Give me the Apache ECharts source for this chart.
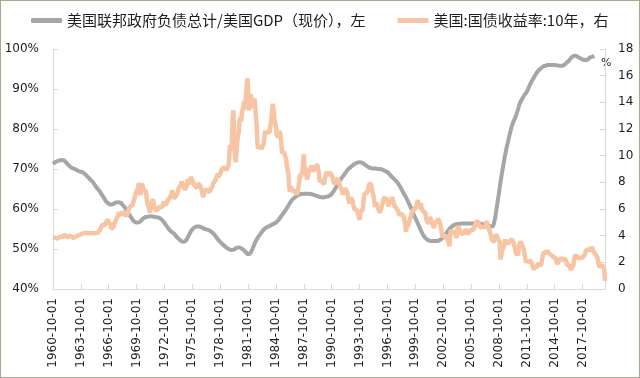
<!DOCTYPE html>
<html>
<head>
<meta charset="utf-8">
<script src="https://cdn.jsdelivr.net/npm/echarts@6/dist/echarts.min.js"></script>
<style>
html,body{margin:0;padding:0;background:#fff;}
#wrap{position:relative;width:640px;height:378px;}
#chart{position:absolute;left:0;top:0;width:640px;height:378px;}
#frame{position:absolute;left:0;top:0;width:640px;height:378px;box-sizing:border-box;border:1px solid #aca78e;pointer-events:none;}
</style>
</head>
<body>
<div id="wrap"><div id="chart"></div><div id="frame"></div></div>
<script>
// Category range: monthly, 1960-10 .. 2020-03
const startYear = 1960, startMonth = 10, monthCount = 714;
const labelEvery = 36; // every 3 years: 1960-10-01, 1963-10-01, ...

const seriesNames = ['美国联邦政府负债总计/美国GDP（现价），左', '美国:国债收益率:10年，右'];

// Federal debt / GDP (%), quarterly from 1960-10 (Oct, Jan, Apr, Jul ...)
const debtRatio = [
71.3,
71.7,72.0,72.2,72.25,
72.0,71.4,70.8,70.3,
70.1,69.8,69.5,69.3,
69.1,68.6,68.0,67.4,
66.8,66.0,65.2,64.5,
63.6,62.7,61.8,61.3,
61.1,61.3,61.6,61.7,
61.6,61.0,60.3,59.5,
58.5,57.6,56.9,56.6,
56.7,57.2,57.7,58.0,
58.1,58.2,58.1,58.0,
57.9,57.7,57.2,56.5,
55.7,54.9,54.3,53.9,
53.2,52.6,52.1,51.8,
52.0,52.9,54.0,54.9,
55.4,55.6,55.6,55.4,
55.1,54.9,54.75,54.4,
53.9,53.2,52.4,51.8,
51.2,50.7,50.2,49.9,
49.75,49.9,50.3,50.4,
50.2,49.8,49.2,48.7,
49.0,50.2,51.6,52.7,
53.5,54.3,55.0,55.4,
55.7,56.0,56.3,56.6,
57.2,58.0,58.8,59.6,
60.5,61.5,62.3,62.9,
63.3,63.6,63.75,63.8,
63.8,63.8,63.75,63.6,
63.4,63.2,63.0,62.9,
63.0,63.1,63.3,63.8,
64.6,65.6,66.7,67.5,
68.3,69.1,69.9,70.4,
70.9,71.3,71.6,71.7,
71.6,71.2,70.8,70.4,
70.2,70.1,70.1,70.0,
70.0,69.8,69.5,69.2,
68.6,68.0,67.4,66.8,
66.0,65.0,63.9,62.9,
61.7,60.4,59.0,57.8,
56.5,55.2,53.9,53.0,
52.4,52.1,52.0,52.0,
52.0,52.1,52.4,53.0,
53.7,54.5,55.2,55.7,
56.1,56.25,56.3,56.4,
56.4,56.4,56.4,56.4,
56.4,56.3,56.3,56.3,
56.2,56.2,56.0,55.8,
55.6,56.8,60.2,64.0,
67.9,71.3,74.5,77.0,
79.5,81.5,82.8,84.5,
86.4,87.5,88.5,89.3,
90.6,91.8,92.8,93.8,
94.6,95.1,95.6,95.8,
96.0,96.0,96.0,96.0,
95.9,95.8,95.8,96.0,
96.5,97.0,97.7,98.2,
98.3,98.0,97.7,97.4,
97.25,97.3,97.8,98.0,
98.3
];

// US 10-year Treasury yield (%), monthly from 1960-10
const yield10y = [
3.89,3.93,3.84,
3.84,3.78,3.74,3.78,3.71,3.88,3.92,4.04,3.98,3.92,3.94,4.06,
4.08,4.04,3.93,3.84,3.87,3.91,4.01,3.98,3.98,3.93,3.92,3.86,
3.83,3.92,3.93,3.97,3.93,3.99,4.02,4.00,4.08,4.11,4.12,4.13,
4.17,4.15,4.22,4.23,4.20,4.17,4.19,4.19,4.20,4.19,4.15,4.18,
4.19,4.21,4.21,4.20,4.21,4.21,4.20,4.25,4.29,4.35,4.45,4.62,
4.61,4.83,4.87,4.75,4.78,4.81,5.02,5.22,5.18,5.01,5.16,4.84,
4.58,4.63,4.54,4.59,4.85,5.02,5.16,5.28,5.30,5.48,5.75,5.70,
5.53,5.56,5.74,5.64,5.87,5.72,5.50,5.42,5.46,5.58,5.70,6.03,
6.04,6.19,6.30,6.17,6.32,6.57,6.72,6.69,7.16,7.10,7.14,7.65,
7.95,7.24,7.07,7.39,7.91,7.84,7.46,7.53,7.39,7.33,6.84,6.39,
6.24,6.11,5.70,5.83,6.39,6.52,6.73,6.58,6.14,5.93,5.81,5.93,
5.95,6.08,6.07,6.19,6.13,6.11,6.11,6.21,6.55,6.48,6.28,6.36,
6.46,6.64,6.71,6.67,6.85,6.90,7.13,7.40,7.09,6.79,6.73,6.74,
6.99,6.96,7.21,7.51,7.58,7.54,7.81,8.04,8.04,7.90,7.68,7.43,
7.50,7.39,7.73,8.23,8.06,7.86,8.06,8.40,8.43,8.14,8.05,8.00,
7.74,7.79,7.73,7.56,7.90,7.86,7.83,7.77,7.59,7.41,7.29,6.87,
7.21,7.39,7.46,7.37,7.46,7.28,7.33,7.40,7.34,7.52,7.58,7.69,
7.96,8.03,8.04,8.15,8.35,8.46,8.64,8.41,8.42,8.64,8.81,9.01,
9.10,9.10,9.12,9.18,9.25,8.91,8.95,9.03,9.33,10.30,10.80,10.39,
10.80,12.80,13.40,11.47,10.18,9.50,10.25,11.10,11.51,11.75,12.68,12.84,
12.57,13.19,13.12,13.68,14.10,13.47,14.28,14.94,15.80,15.30,13.39,13.72,
14.59,14.43,13.86,13.87,13.62,14.30,13.95,13.06,12.34,10.91,10.55,10.54,
10.46,10.72,10.51,10.40,10.38,10.85,11.38,11.85,11.65,11.54,11.69,11.83,
11.67,11.84,12.32,12.63,13.41,13.90,13.36,12.72,12.52,12.16,11.57,11.50,
11.38,11.51,11.86,11.43,10.85,10.16,10.31,10.33,10.37,10.24,9.78,9.26,
9.19,8.70,7.78,7.30,7.71,7.80,7.30,7.17,7.45,7.43,7.25,7.11,
7.08,7.25,7.25,8.02,8.61,8.40,8.45,8.76,9.42,10.10,8.86,8.99,
8.67,8.21,8.37,8.72,9.09,8.92,9.06,9.26,8.98,8.80,8.96,9.11,
9.09,9.17,9.36,9.18,8.86,8.28,8.02,8.11,8.19,8.01,7.87,7.84,
8.21,8.47,8.59,8.79,8.76,8.48,8.47,8.75,8.89,8.72,8.39,8.08,
8.09,7.85,8.11,8.04,8.07,8.28,8.27,7.90,7.65,7.53,7.42,7.09,
7.03,7.34,7.54,7.48,7.39,7.26,6.84,6.59,6.42,6.59,6.87,6.77,
6.60,6.26,5.98,5.97,6.04,5.96,5.81,5.68,5.36,5.20,5.72,5.77,
5.75,5.97,6.48,6.97,7.18,7.10,7.30,7.24,7.46,7.74,7.96,7.81,
7.78,7.47,7.20,7.06,6.63,6.17,6.28,6.49,6.20,6.04,5.93,5.71,
5.65,5.81,6.27,6.51,6.74,6.91,6.87,6.64,6.83,6.53,6.20,6.30,
6.58,6.42,6.69,6.89,6.71,6.49,6.22,6.30,6.21,6.03,5.88,5.81,
5.54,5.57,5.65,5.64,5.65,5.50,5.46,5.34,4.81,4.30,4.83,4.65,
4.72,5.00,5.23,5.18,5.54,5.90,5.79,5.94,5.92,6.11,6.03,6.28,
6.66,6.52,6.26,5.99,6.44,6.10,6.05,5.83,5.80,5.74,5.72,5.24,
5.16,5.10,4.89,5.14,5.39,5.28,5.24,4.97,4.73,4.57,4.65,5.09,
5.04,4.91,5.28,5.21,5.16,4.93,4.65,4.26,3.87,3.94,4.05,4.03,
4.05,3.90,3.81,3.96,3.57,3.20,3.98,4.45,4.27,4.29,4.30,4.27,
4.15,4.08,3.83,4.35,4.72,4.73,4.50,4.28,4.13,4.10,4.19,4.23,
4.22,4.17,4.50,4.34,4.14,4.00,4.18,4.26,4.20,4.46,4.54,4.47,
4.42,4.57,4.72,4.99,5.11,5.11,5.09,4.88,4.72,4.73,4.60,4.56,
4.76,4.72,4.56,4.69,4.75,5.10,5.00,4.67,4.52,4.53,4.15,4.10,
3.74,3.74,3.51,3.68,3.88,4.10,4.01,3.89,3.69,3.81,3.53,2.20,
2.52,2.87,2.82,2.93,3.29,3.72,3.56,3.59,3.40,3.39,3.40,3.59,
3.73,3.69,3.73,3.85,3.42,3.20,3.01,2.70,2.65,2.54,2.76,3.29,
3.39,3.58,3.41,3.46,3.17,3.00,3.00,2.30,1.98,2.15,2.01,1.98,
1.97,1.97,2.17,2.05,1.80,1.62,1.45,1.68,1.72,1.75,1.65,1.72,
1.91,1.98,1.96,1.76,1.93,2.30,2.58,2.74,2.81,2.62,2.72,2.90,
2.86,2.71,2.72,2.71,2.56,2.60,2.54,2.42,2.53,2.30,2.33,2.21,
1.88,1.98,2.04,1.94,2.20,2.36,2.32,2.17,2.17,2.07,2.26,2.24,
2.09,1.78,1.89,1.81,1.81,1.64,1.40,1.56,1.63,1.76,2.14,2.49,
2.43,2.42,2.48,2.30,2.30,2.19,2.32,2.21,2.20,2.36,2.35,2.40,
2.58,2.86,2.84,2.87,2.98,2.91,2.89,2.89,3.00,3.15,3.12,2.83,
2.71,2.68,2.57,2.53,2.40,2.07,2.06,1.63,1.70,1.71,1.81,1.86,
1.76,1.50,0.60
];

// Tick labels of the two value axes
const leftTicks = [40, 50, 60, 70, 80, 90, 100];
const rightTicks = [0, 2, 4, 6, 8, 10, 12, 14, 16, 18];

// build category labels
const categories = [];
for (let i = 0; i < monthCount; i++) {
  const m0 = startMonth - 1 + i;
  const y = startYear + Math.floor(m0 / 12);
  const m = (m0 % 12) + 1;
  categories.push(y + '-' + String(m).padStart(2, '0') + '-01');
}

const numFont = 'DejaVu Sans';
const cjkFont = 'Noto Sans CJK SC';
const axisGray = '#d9d9d9';
const textColor = '#1e1e1e';
const debtColor = '#a6a6a6';
const yieldColor = '#f7c5a3';

const chart = echarts.init(document.getElementById('chart'), null, {renderer: 'canvas'});
chart.setOption({
  animation: false,
  backgroundColor: '#ffffff',
  grid: {left: 53, right: 35, top: 49, bottom: 89, containLabel: false},
  legend: {
    left: 26, top: 8,
    itemWidth: 31, itemHeight: 5, itemGap: 32,
    textStyle: {fontFamily: cjkFont, fontSize: 15, color: textColor},
    data: [
      {name: seriesNames[0], icon: 'roundRect', itemStyle: {color: debtColor}},
      {name: seriesNames[1], icon: 'roundRect', itemStyle: {color: yieldColor}}
    ]
  },
  graphic: [{
    type: 'text', left: 601, top: 58,
    style: {text: '%', fontFamily: numFont, fontSize: 11, fill: textColor}
  }],
  xAxis: {
    type: 'category',
    data: categories,
    boundaryGap: false,
    axisLine: {lineStyle: {color: axisGray, width: 1}},
    axisTick: {show: true, inside: true, length: 5, interval: labelEvery - 1, lineStyle: {color: axisGray}},
    axisLabel: {
      interval: labelEvery - 1, rotate: 90, margin: 9,
      fontFamily: numFont, fontSize: 12, color: textColor
    },
    splitLine: {show: false}
  },
  yAxis: [{
    type: 'value', min: leftTicks[0], max: leftTicks[leftTicks.length - 1], interval: 10,
    position: 'left',
    axisLine: {show: true, lineStyle: {color: axisGray}},
    axisTick: {show: true, inside: true, length: 5, lineStyle: {color: axisGray}},
    axisLabel: {formatter: '{value}%', margin: 14, fontFamily: numFont, fontSize: 12, color: textColor},
    splitLine: {show: false}
  }, {
    type: 'value', min: rightTicks[0], max: rightTicks[rightTicks.length - 1], interval: 2,
    position: 'right',
    axisLine: {show: true, lineStyle: {color: axisGray}},
    axisTick: {show: true, inside: true, length: 5, lineStyle: {color: axisGray}},
    axisLabel: {margin: 13, fontFamily: numFont, fontSize: 12, color: textColor},
    splitLine: {show: false}
  }],
  series: [{
    name: seriesNames[0],
    type: 'line',
    yAxisIndex: 0,
    data: debtRatio.map((v, q) => [3 * q, v]),
    smooth: true,
    symbol: 'none',
    lineStyle: {color: debtColor, width: 4},
    itemStyle: {color: debtColor},
    z: 2
  }, {
    name: seriesNames[1],
    type: 'line',
    yAxisIndex: 1,
    data: yield10y,
    symbol: 'none',
    lineStyle: {color: yieldColor, width: 4.5},
    itemStyle: {color: yieldColor},
    z: 3
  }]
});
</script>
</body>
</html>
